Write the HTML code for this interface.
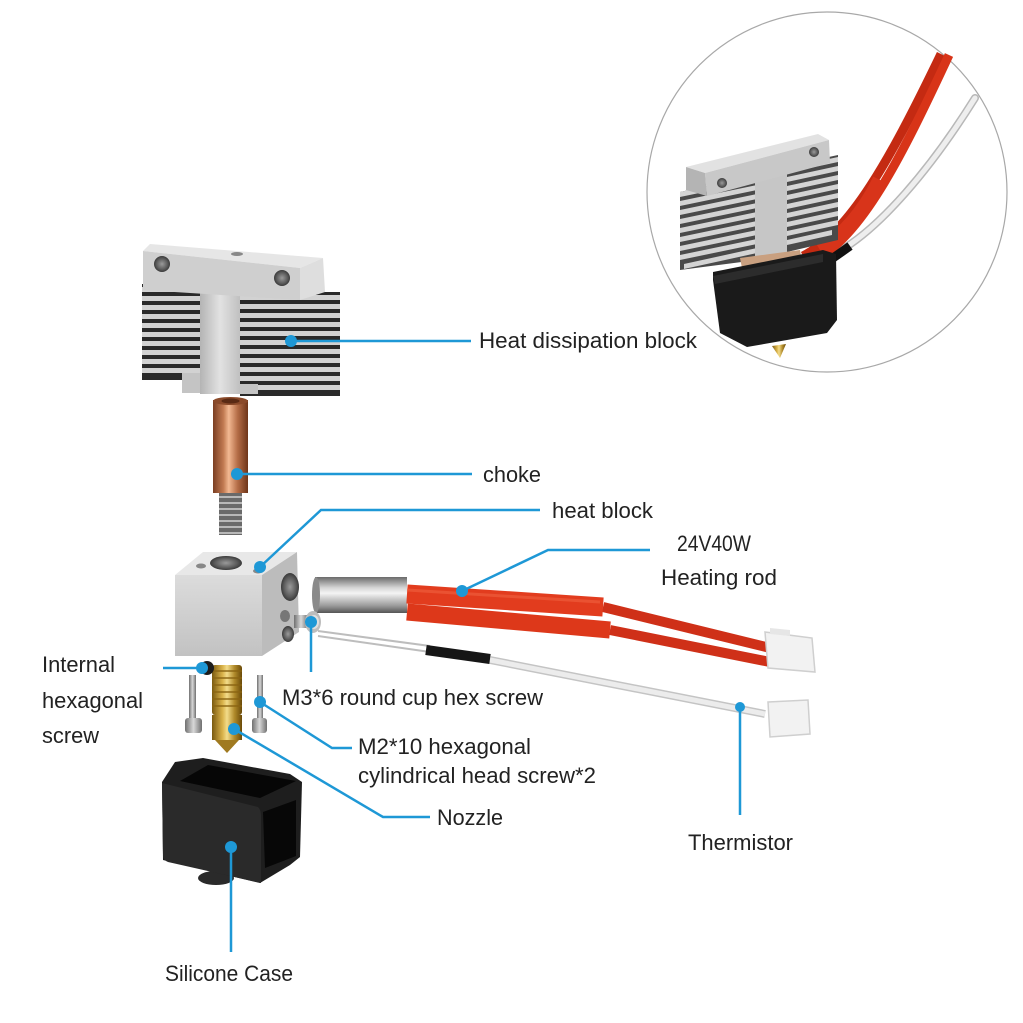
<!DOCTYPE html>
<html>
<head>
<meta charset="utf-8">
<style>
html,body{margin:0;padding:0;background:#fff;}
svg{display:block;}
text{font-family:"Liberation Sans",Arial,sans-serif;font-size:22px;fill:#222;}
</style>
</head>
<body>
<svg width="1023" height="1023" viewBox="0 0 1023 1023" xmlns="http://www.w3.org/2000/svg">
<defs>
  <linearGradient id="metalH" x1="0" y1="0" x2="1" y2="0">
    <stop offset="0" stop-color="#b4b4b4"/>
    <stop offset="0.5" stop-color="#e2e2e2"/>
    <stop offset="1" stop-color="#c0c0c0"/>
  </linearGradient>
  <linearGradient id="metalV" x1="0" y1="0" x2="0" y2="1">
    <stop offset="0" stop-color="#dcdcdc"/>
    <stop offset="1" stop-color="#c2c2c2"/>
  </linearGradient>
  <linearGradient id="copper" x1="0" y1="0" x2="1" y2="0">
    <stop offset="0" stop-color="#7a3e22"/>
    <stop offset="0.3" stop-color="#c27a52"/>
    <stop offset="0.45" stop-color="#f2b892"/>
    <stop offset="0.7" stop-color="#b56d47"/>
    <stop offset="1" stop-color="#6e3519"/>
  </linearGradient>
  <linearGradient id="brass" x1="0" y1="0" x2="1" y2="0">
    <stop offset="0" stop-color="#7a5a10"/>
    <stop offset="0.35" stop-color="#d9b24a"/>
    <stop offset="0.5" stop-color="#f3dc8a"/>
    <stop offset="0.75" stop-color="#b08a2a"/>
    <stop offset="1" stop-color="#6a4a08"/>
  </linearGradient>
  <linearGradient id="cyl" x1="0" y1="0" x2="0" y2="1">
    <stop offset="0" stop-color="#6a6a6a"/>
    <stop offset="0.3" stop-color="#d6d6d6"/>
    <stop offset="0.45" stop-color="#f4f4f4"/>
    <stop offset="0.8" stop-color="#9a9a9a"/>
    <stop offset="1" stop-color="#555"/>
  </linearGradient>
  <linearGradient id="screw" x1="0" y1="0" x2="1" y2="0">
    <stop offset="0" stop-color="#707070"/>
    <stop offset="0.5" stop-color="#d8d8d8"/>
    <stop offset="1" stop-color="#707070"/>
  </linearGradient>
  <radialGradient id="hole" cx="0.5" cy="0.5" r="0.5">
    <stop offset="0" stop-color="#9a9a9a"/>
    <stop offset="0.7" stop-color="#5a5a5a"/>
    <stop offset="1" stop-color="#3a3a3a"/>
  </radialGradient>
</defs>

<rect width="1023" height="1023" fill="#fff"/>

<!-- ============ INSET CIRCLE ============ -->
<circle cx="827" cy="192" r="180" fill="#fff" stroke="#a8a8a8" stroke-width="1.2"/>
<!-- wires in inset -->
<path d="M838,252 C880,228 930,170 975,98" stroke="#b8b8b8" stroke-width="8" fill="none" stroke-linecap="round"/>
<path d="M838,252 C880,228 930,170 975,98" stroke="#eeeeee" stroke-width="5" fill="none" stroke-linecap="round"/>
<path d="M803,256 C850,232 890,160 941,54" stroke="#c42a12" stroke-width="9" fill="none"/>
<path d="M812,262 C862,236 900,160 949,55" stroke="#d83418" stroke-width="9" fill="none"/>
<path d="M820,250 C845,235 865,210 880,180" stroke="#d8341a" stroke-width="15" fill="none"/>
<path d="M833,258 L850,246" stroke="#111" stroke-width="9" fill="none"/>
<!-- heat sink in inset -->
<polygon points="680,192 757,175 757,260 680,270" fill="#4a4a4a"/>
<g fill="#d4d4d4">
  <polygon points="680,192 757,176 757,181 680,197"/>
  <polygon points="680,201 757,185 757,190 680,206"/>
  <polygon points="680,210 757,194 757,199 680,215"/>
  <polygon points="680,219 757,203 757,208 680,224"/>
  <polygon points="680,228 757,212 757,217 680,233"/>
  <polygon points="680,237 757,221 757,226 680,242"/>
  <polygon points="680,246 757,230 757,235 680,251"/>
  <polygon points="680,255 757,239 757,244 680,260"/>
  <polygon points="684,264 757,248 757,253 684,269"/>
</g>
<polygon points="787,166 838,155 838,240 787,252" fill="#4a4a4a"/>
<g fill="#d4d4d4">
  <polygon points="787,168 838,157 838,162 787,173"/>
  <polygon points="787,177 838,166 838,171 787,182"/>
  <polygon points="787,186 838,175 838,180 787,191"/>
  <polygon points="787,195 838,184 838,189 787,200"/>
  <polygon points="787,204 838,193 838,198 787,209"/>
  <polygon points="787,213 838,202 838,207 787,218"/>
  <polygon points="787,222 838,211 838,216 787,227"/>
  <polygon points="787,231 838,220 838,225 787,236"/>
  <polygon points="787,240 832,230 832,235 787,245"/>
</g>
<polygon points="755,178 787,170 787,252 755,260" fill="#c6c6c6"/>
<polygon points="686,167 818,134 829,140 705,173" fill="#e2e2e2"/>
<polygon points="705,173 829,140 830,163 707,196" fill="#c8c8c8"/>
<polygon points="686,167 705,173 707,196 686,190" fill="#b4b4b4"/>
<circle cx="722" cy="183" r="5" fill="url(#hole)"/>
<circle cx="814" cy="152" r="5" fill="url(#hole)"/>
<!-- sock -->
<polygon points="740,258 800,250 802,262 742,268" fill="#c9a080"/>
<polygon points="713,272 823,250 836,254 837,320 827,333 747,347 720,333 713,280" fill="#1a1a1a"/>
<polygon points="713,276 823,254 823,262 715,284" fill="#2c2c2c"/>
<polygon points="772,346 786,344 780,358" fill="url(#brass)"/>

<!-- ============ HEAT DISSIPATION BLOCK ============ -->
<rect x="142" y="284" width="58" height="96" fill="#2a2a2a"/>
<g fill="#d2d2d2">
  <rect x="142" y="287" width="58" height="5"/>
  <rect x="142" y="296" width="58" height="5"/>
  <rect x="142" y="305" width="58" height="5"/>
  <rect x="142" y="314" width="58" height="5"/>
  <rect x="142" y="323" width="58" height="5"/>
  <rect x="142" y="332" width="58" height="5"/>
  <rect x="142" y="341" width="58" height="5"/>
  <rect x="142" y="350" width="58" height="5"/>
  <rect x="142" y="359" width="58" height="5"/>
  <rect x="142" y="368" width="58" height="5"/>
</g>
<rect x="142" y="373" width="40" height="7" fill="#2a2a2a"/>
<rect x="182" y="373" width="18" height="20" fill="#c4c4c4"/>
<rect x="240" y="292" width="100" height="104" fill="#2a2a2a"/>
<g fill="#d2d2d2">
  <rect x="240" y="295" width="100" height="5"/>
  <rect x="240" y="304" width="100" height="5"/>
  <rect x="240" y="313" width="100" height="5"/>
  <rect x="240" y="322" width="100" height="5"/>
  <rect x="240" y="331" width="100" height="5"/>
  <rect x="240" y="340" width="100" height="5"/>
  <rect x="240" y="349" width="100" height="5"/>
  <rect x="240" y="358" width="100" height="5"/>
  <rect x="240" y="367" width="100" height="5"/>
  <rect x="240" y="376" width="100" height="5"/>
  <rect x="258" y="385" width="82" height="5"/>
</g>
<rect x="240" y="384" width="18" height="10" fill="#c4c4c4"/>
<rect x="200" y="288" width="40" height="106" fill="url(#metalH)"/>
<polygon points="143,251 150,244 323,258 300,268" fill="#e6e6e6"/>
<polygon points="143,251 300,268 300,300 143,290" fill="#cfcfcf"/>
<polygon points="300,268 323,258 325,292 300,300" fill="#dedede"/>
<circle cx="162" cy="264" r="8" fill="url(#hole)"/>
<circle cx="282" cy="278" r="8" fill="url(#hole)"/>
<ellipse cx="237" cy="254" rx="6" ry="2" fill="#888"/>

<!-- ============ CHOKE ============ -->
<rect x="213" y="400" width="35" height="93" fill="url(#copper)"/>
<ellipse cx="230.5" cy="401" rx="17.5" ry="4" fill="#8a4a2a"/>
<ellipse cx="230.5" cy="401" rx="9" ry="2.5" fill="#5a2a14"/>
<rect x="219" y="493" width="23" height="42" fill="#6a6a6a"/>
<g fill="#b8b8b8">
  <rect x="219" y="496" width="23" height="2"/>
  <rect x="219" y="502" width="23" height="2"/>
  <rect x="219" y="508" width="23" height="2"/>
  <rect x="219" y="514" width="23" height="2"/>
  <rect x="219" y="520" width="23" height="2"/>
  <rect x="219" y="526" width="23" height="2"/>
  <rect x="219" y="532" width="23" height="2"/>
</g>

<!-- ============ HEAT BLOCK ============ -->
<polygon points="175,575 203,552 297,552 262,575" fill="#e8e8e8"/>
<polygon points="175,575 262,575 262,656 175,656" fill="url(#metalV)"/>
<polygon points="262,575 297,552 299,632 262,656" fill="#bcbcbc"/>
<ellipse cx="226" cy="563" rx="16" ry="7" fill="url(#hole)"/>
<ellipse cx="201" cy="566" rx="5" ry="2.5" fill="#888"/>
<ellipse cx="258" cy="571" rx="5" ry="2.5" fill="#888"/>
<ellipse cx="290" cy="587" rx="9" ry="14" fill="url(#hole)"/>
<ellipse cx="285" cy="616" rx="5" ry="6" fill="#777"/>
<ellipse cx="288" cy="634" rx="6" ry="8" fill="url(#hole)"/>

<!-- ============ HEATER CARTRIDGE & CABLES ============ -->
<path d="M603,607 L770,648" stroke="#cf3018" stroke-width="10" fill="none"/>
<path d="M610,630 L770,662" stroke="#cf3018" stroke-width="10" fill="none"/>
<rect x="315" y="577" width="92" height="36" fill="url(#cyl)"/>
<ellipse cx="316" cy="595" rx="4" ry="18" fill="#8a8a8a"/>
<path d="M407,594 L603,607" stroke="#e23c1e" stroke-width="19" fill="none"/>
<path d="M407,612 L610,630" stroke="#dd381a" stroke-width="17" fill="none"/>
<path d="M407,590 L600,602" stroke="#f06040" stroke-width="3" fill="none" opacity="0.6"/>
<polygon points="765,632 812,638 815,672 768,668" fill="#f2f2f2" stroke="#cfcfcf" stroke-width="1.5"/>
<polygon points="770,628 790,630 790,636 770,634" fill="#e6e6e6"/>

<!-- Thermistor -->
<path d="M318,631 L430,646" stroke="#bdbdbd" stroke-width="2" fill="none"/>
<path d="M318,636 L430,652" stroke="#bdbdbd" stroke-width="2" fill="none"/>
<path d="M490,660 L765,714" stroke="#c4c4c4" stroke-width="8" fill="none"/>
<path d="M490,660 L765,714" stroke="#ececec" stroke-width="5" fill="none"/>
<path d="M426,650 L490,659" stroke="#161616" stroke-width="10" fill="none"/>
<polygon points="768,702 808,700 810,734 770,737" fill="#f2f2f2" stroke="#cfcfcf" stroke-width="1.5"/>

<!-- M3 screw -->
<rect x="294" y="615" width="14" height="13" fill="url(#screw)"/>
<ellipse cx="313" cy="622" rx="8" ry="11" fill="#bdbdbd"/>
<ellipse cx="314" cy="622" rx="5" ry="7" fill="#e0e0e0"/>

<!-- ============ NOZZLE & SCREWS ============ -->
<rect x="212" y="665" width="30" height="50" rx="3" fill="url(#brass)"/>
<g fill="#8a6412" opacity="0.7">
  <rect x="212" y="670" width="30" height="2"/>
  <rect x="212" y="677" width="30" height="2"/>
  <rect x="212" y="684" width="30" height="2"/>
  <rect x="212" y="691" width="30" height="2"/>
  <rect x="212" y="698" width="30" height="2"/>
  <rect x="212" y="705" width="30" height="2"/>
</g>
<rect x="212" y="715" width="30" height="25" fill="url(#brass)"/>
<polygon points="215,740 239,740 227,753" fill="#a07a20"/>
<rect x="189" y="675" width="7" height="44" fill="url(#screw)"/>
<rect x="185" y="718" width="17" height="15" rx="3" fill="url(#screw)"/>
<rect x="257" y="675" width="6" height="44" fill="url(#screw)"/>
<rect x="252" y="718" width="15" height="15" rx="3" fill="url(#screw)"/>
<circle cx="207" cy="668" r="7" fill="#1c1c1c"/>

<!-- ============ SILICONE CASE ============ -->
<ellipse cx="216" cy="878" rx="18" ry="7" fill="#2a2a2a"/>
<polygon points="162,782 175,762 203,758 290,774 302,782 300,857 290,865 260,883 163,860" fill="#1e1e1e"/>
<polygon points="180,781 208,765 296,781 260,798" fill="#060606"/>
<polygon points="263,812 296,800 296,856 265,868" fill="#070707"/>
<path d="M162,783 L258,807 Q261,810 261,815 L261,883 L168,862 Q163,860 163,855 Z" fill="#2a2a2a"/>

<!-- ============ CONNECTORS ============ -->
<g stroke="#1e98d6" stroke-width="2.5" fill="none">
  <path d="M291,341 L471,341"/>
  <path d="M237,474 L472,474"/>
  <path d="M260,567 L321,510 L540,510"/>
  <path d="M462,591 L548,550 L650,550"/>
  <path d="M311,622 L311,672"/>
  <path d="M163,668 L202,668"/>
  <path d="M260,702 L332,748 L352,748"/>
  <path d="M234,729 L383,817 L430,817"/>
  <path d="M740,707 L740,815"/>
  <path d="M231,847 L231,952"/>
</g>
<g fill="#1e98d6">
  <circle cx="291" cy="341" r="6"/>
  <circle cx="237" cy="474" r="6"/>
  <circle cx="260" cy="567" r="6"/>
  <circle cx="462" cy="591" r="6"/>
  <circle cx="311" cy="622" r="6"/>
  <circle cx="202" cy="668" r="6"/>
  <circle cx="260" cy="702" r="6"/>
  <circle cx="234" cy="729" r="6"/>
  <circle cx="740" cy="707" r="5"/>
  <circle cx="231" cy="847" r="6"/>
</g>

<!-- ============ LABELS ============ -->
<text x="479" y="348" textLength="218" lengthAdjust="spacingAndGlyphs">Heat dissipation block</text>
<text x="483" y="482" textLength="58" lengthAdjust="spacingAndGlyphs">choke</text>
<text x="552" y="518" textLength="101" lengthAdjust="spacingAndGlyphs">heat block</text>
<text x="677" y="551" textLength="74" lengthAdjust="spacingAndGlyphs">24V40W</text>
<text x="661" y="585" textLength="116" lengthAdjust="spacingAndGlyphs">Heating rod</text>
<text x="282" y="705" textLength="261" lengthAdjust="spacingAndGlyphs">M3*6 round cup hex screw</text>
<text x="358" y="754" textLength="173" lengthAdjust="spacingAndGlyphs">M2*10 hexagonal</text>
<text x="358" y="783" textLength="238" lengthAdjust="spacingAndGlyphs">cylindrical head screw*2</text>
<text x="437" y="825" textLength="66" lengthAdjust="spacingAndGlyphs">Nozzle</text>
<text x="688" y="850" textLength="105" lengthAdjust="spacingAndGlyphs">Thermistor</text>
<text x="42" y="672" textLength="73" lengthAdjust="spacingAndGlyphs">Internal</text>
<text x="42" y="708" textLength="101" lengthAdjust="spacingAndGlyphs">hexagonal</text>
<text x="42" y="743" textLength="57" lengthAdjust="spacingAndGlyphs">screw</text>
<text x="165" y="981" textLength="128" lengthAdjust="spacingAndGlyphs">Silicone Case</text>
</svg>
</body>
</html>
